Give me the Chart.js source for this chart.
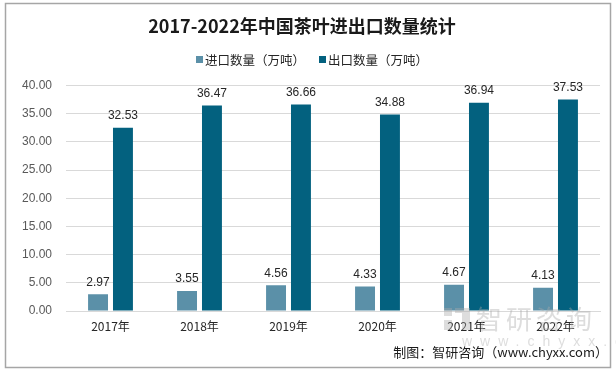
<!DOCTYPE html>
<html>
<head>
<meta charset="utf-8">
<script src="https://cdn.jsdelivr.net/npm/chart.js@4"></script>
<style>
  html, body { margin: 0; padding: 0; background: #fff; }
  #wrap { width: 616px; height: 369px; }
</style>
</head>
<body>
<div id="wrap"><canvas id="myChart" width="616" height="369"></canvas></div>
<script>
'use strict'
const years = ['2017年', '2018年', '2019年', '2020年', '2021年', '2022年'];
const importVals = [2.97, 3.55, 4.56, 4.33, 4.67, 4.13];
const exportVals = [32.53, 36.47, 36.66, 34.88, 36.94, 37.53];
const seriesNames = ['进口数量（万吨）', '出口数量（万吨）'];
const seriesColors = ['#5b90a8', '#03617f'];

const cjk = '"Noto Sans CJK SC", "Microsoft YaHei", sans-serif';
const num = '"Liberation Sans", "Noto Sans", sans-serif';

// value labels above bars
const barLabels = {
  id: 'barLabels',
  afterDatasetsDraw(chart) {
    let ctx = chart.ctx;
    ctx.save();
    ctx.font = '12px ' + num;
    ctx.fillStyle = '#262626';
    ctx.textAlign = 'center';
    ctx.textBaseline = 'bottom';
    chart.data.datasets.forEach((ds, i) => {
      chart.getDatasetMeta(i).data.forEach((bar, j) => {
        ctx.fillText(ds.data[j].toFixed(2), bar.x, bar.y - 6);
      });
    });
    ctx.restore();
  }
};

// legend drawn by hand so it sits where the original has it
const legendRow = {
  id: 'legendRow',
  afterDraw(chart) {
    let ctx = chart.ctx;
    ctx.save();
    ctx.font = '12.5px ' + cjk;
    ctx.textBaseline = 'middle';
    ctx.textAlign = 'left';
    let xs = [196, 319];
    chart.data.datasets.forEach((ds, i) => {
      ctx.fillStyle = ds.backgroundColor;
      ctx.fillRect(xs[i], 56, 7, 7);
      ctx.fillStyle = '#262626';
      ctx.fillText(ds.label, xs[i] + 9, 60);
    });
    ctx.restore();
  }
};

// frame, watermark, source note
const extras = {
  id: 'extras',
  afterDraw(chart) {
    let ctx = chart.ctx;
    ctx.save();
    ctx.strokeStyle = '#a6a6a6';
    ctx.lineWidth = 1.5;
    ctx.strokeRect(5.5, 3.5, 605, 364);

    // watermark
    ctx.fillStyle = 'rgba(170,170,170,0.4)';
    ctx.fillRect(444, 308, 8, 8);
    ctx.fillRect(444, 320, 8, 10);
    ctx.fillRect(455, 308, 15, 5);
    ctx.fillRect(462, 313, 8, 17);
    ctx.font = '26px ' + cjk;
    ctx.textAlign = 'left';
    ctx.textBaseline = 'middle';
    ctx.letterSpacing = '4px';
    ctx.fillText('智研咨询', 476, 319);
    ctx.font = '14px ' + num;
    ctx.letterSpacing = '8px';
    ctx.fillText('www.chyxx.com', 462, 342);
    ctx.letterSpacing = '0px';

    ctx.fillStyle = '#1a1a1a';
    ctx.font = '13px ' + cjk;
    ctx.textAlign = 'right';
    ctx.fillText('制图：智研咨询（www.chyxx.com）', 608, 352);
    ctx.restore();
  }
};

new Chart(document.getElementById('myChart'), {
  type: 'bar',
  data: {
    labels: years,
    datasets: [
      { label: seriesNames[0], data: importVals, backgroundColor: seriesColors[0] },
      { label: seriesNames[1], data: exportVals, backgroundColor: seriesColors[1] }
    ]
  },
  options: {
    responsive: false,
    animation: false,
    devicePixelRatio: 1,
    layout: { padding: { left: 4, right: 16, top: 4, bottom: 28 } },
    datasets: { bar: { categoryPercentage: 0.56, barPercentage: 0.8 } },
    plugins: {
      title: {
        display: true,
        text: '2017-2022年中国茶叶进出口数量统计',
        color: '#1a1a1a',
        font: { family: cjk, size: 18, weight: 'bold' },
        padding: { top: 11, bottom: 49 }
      },
      legend: { display: false },
      tooltip: { enabled: false }
    },
    scales: {
      x: {
        grid: { display: false, drawTicks: false },
        border: { color: '#d9d9d9' },
        ticks: { color: '#262626', font: { family: cjk, size: 12 }, padding: 8 },
        afterFit: s => { s.height = 30; }
      },
      y: {
        min: 0, max: 40,
        ticks: {
          stepSize: 5,
          color: '#595959',
          font: { family: num, size: 12 },
          padding: 14,
          callback: v => v.toFixed(2)
        },
        grid: { color: '#d9d9d9', drawTicks: false },
        border: { display: false },
        afterFit: s => { s.width = 62; }
      }
    }
  },
  plugins: [barLabels, legendRow, extras]
});
</script>
</body>
</html>
